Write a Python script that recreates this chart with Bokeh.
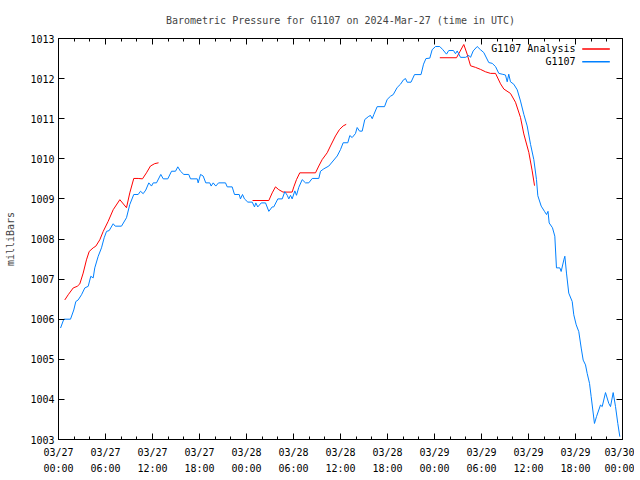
import math
from bokeh.plotting import figure
from bokeh.models import (Range1d, FixedTicker, LinearAxis, Label, Arrow)
from bokeh.embed import file_html
from bokeh.resources import INLINE

NAN = float("nan")

# ---- data: hours since 2024-03-27 00:00 UTC, pressure in milliBars ----
station_hours = [0.26, 0.68, 1.53, 1.95, 2.21, 2.51, 2.94, 3.36, 3.79, 4.12, 4.43, 4.63, 5.07, 5.49, 5.83,
                 6.13, 6.47, 6.98, 7.24, 8.04, 8.68, 9.10, 9.61, 10.17, 10.47, 10.81, 11.14, 11.53, 11.87,
                 12.09, 12.51, 13.06, 13.37, 13.95, 14.43, 14.94, 15.23, 15.57, 16.00, 16.63, 16.85, 17.71,
                 17.83, 18.13, 18.47, 18.80, 19.31, 19.49, 19.75, 20.08, 20.43, 21.32, 21.54, 22.17, 22.47,
                 23.07, 23.23, 23.49, 23.74, 24.17, 24.73, 25.02, 25.19, 25.44, 25.88, 26.43, 26.85, 27.28,
                 27.48, 28.00, 28.56, 28.89, 29.20, 29.40, 29.62, 29.83, 30.17, 30.38, 30.68, 31.11, 31.53,
                 31.95, 32.39, 33.23, 33.45, 33.87, 34.51, 34.94, 35.58, 36.00, 36.34, 36.93, 37.19, 37.49,
                 37.91, 38.13, 38.43, 38.77, 39.10, 39.61, 39.83, 40.05, 40.25, 40.68, 41.62, 41.96, 42.38,
                 42.73, 43.24, 43.66, 44.04, 44.30, 44.51, 45.00, 45.45, 46.28, 46.60, 46.91, 47.40, 47.70,
                 48.13, 48.67, 49.02, 49.53, 49.82, 50.42, 50.68, 50.90, 51.32, 51.96, 52.38, 52.60, 52.94,
                 53.45, 53.87, 54.29, 54.93, 55.37, 55.79, 56.21, 56.64, 57.06, 57.28, 57.48, 57.70, 58.12,
                 58.56, 58.98, 59.40, 59.83, 60.26, 60.68, 61.02, 61.19, 61.62, 62.04, 62.30, 62.49, 62.64,
                 63.06, 63.36, 63.57, 64.00, 64.17, 64.51, 64.64, 64.85, 65.14, 65.58, 65.78, 66.09, 66.42,
                 66.73, 66.98, 67.28, 67.49, 67.79, 68.00, 68.42, 68.68, 69.19, 69.41, 69.83, 70.25, 70.47,
                 70.81, 71.11, 71.40, 71.66]
station_mb = [1005.78, 1006.00, 1006.00, 1006.23, 1006.44, 1006.48, 1006.61, 1006.78, 1006.82, 1007.07,
              1007.03, 1007.28, 1007.57, 1007.78, 1008.03, 1008.19, 1008.21, 1008.38, 1008.32, 1008.32,
              1008.53, 1008.86, 1009.11, 1009.11, 1009.19, 1009.13, 1009.22, 1009.40, 1009.32, 1009.40,
              1009.40, 1009.61, 1009.50, 1009.50, 1009.69, 1009.69, 1009.80, 1009.69, 1009.61, 1009.61,
              1009.50, 1009.50, 1009.40, 1009.61, 1009.57, 1009.40, 1009.40, 1009.32, 1009.40, 1009.32,
              1009.40, 1009.40, 1009.30, 1009.30, 1009.11, 1009.11, 1009.00, 1009.11, 1009.00, 1008.92,
              1008.92, 1008.80, 1008.90, 1008.80, 1008.90, 1008.90, 1008.69, 1008.80, 1008.80, 1009.00,
              1009.00, 1009.18, 1009.09, 1009.00, 1009.09, 1009.00, 1009.20, 1009.09, 1009.29, 1009.48,
              1009.40, 1009.40, 1009.51, 1009.51, 1009.69, 1009.75, 1009.82, 1009.92, 1010.07, 1010.23,
              1010.40, 1010.40, 1010.58, 1010.53, 1010.63, 1010.78, 1010.69, 1010.69, 1010.98, 1011.06,
              1011.08, 1011.00, 1011.10, 1011.30, 1011.30, 1011.48, 1011.56, 1011.60, 1011.78, 1011.86,
              1011.97, 1012.00, 1011.91, 1011.91, 1012.10, 1012.10, 1012.36, 1012.50, 1012.51, 1012.72,
              1012.80, 1012.80, 1012.73, 1012.61, 1012.70, 1012.70, 1012.62, 1012.69, 1012.53, 1012.53,
              1012.58, 1012.53, 1012.69, 1012.80, 1012.72, 1012.65, 1012.40, 1012.38, 1012.30, 1012.13,
              1012.11, 1012.09, 1011.92, 1012.11, 1011.92, 1011.86, 1011.72, 1011.44, 1011.11, 1010.82,
              1010.36, 1009.98, 1009.48, 1009.08, 1008.82, 1008.69, 1008.61, 1008.69, 1008.40, 1008.28,
              1008.07, 1007.28, 1007.28, 1007.19, 1007.48, 1007.57, 1007.15, 1006.65, 1006.44, 1006.11,
              1005.86, 1005.69, 1005.28, 1004.98, 1004.86, 1004.65, 1004.40, 1004.07, 1003.40, 1003.57,
              1003.86, 1003.82, 1004.17, 1003.90, 1003.82, 1004.17, 1003.82, 1003.40, 1003.07]

analysis_hours = [0.80, 1.24, 1.88, 2.39, 2.72, 3.15, 3.57, 3.92, 4.43, 4.76, 5.27, 5.71, 6.34, 6.98, 7.83,
                  8.68, 9.10, 9.61, 10.17, 10.72, 11.23, 11.74, 12.29, 12.77,
                  NAN,
                  24.77, 26.85, 27.28, 27.70, 28.12, 28.66, 29.83, 30.04, 30.38, 30.80, 32.81, 33.23, 33.66,
                  34.30, 34.72, 35.36, 35.87, 36.34, 36.73,
                  NAN,
                  48.68, 50.81, 51.74, 52.17, 52.60, 53.23, 53.87, 54.51, 55.15, 55.79, 56.43, 56.85, 57.70,
                  58.34, 58.98, 59.40, 60.04, 60.47, 60.77]
analysis_mb = [1006.48, 1006.61, 1006.78, 1006.82, 1006.88, 1007.15, 1007.48, 1007.69, 1007.78, 1007.82,
               1007.98, 1008.19, 1008.44, 1008.73, 1008.98, 1008.78, 1009.15, 1009.51, 1009.51, 1009.50,
               1009.65, 1009.82, 1009.88, 1009.90,
               NAN,
               1008.96, 1008.96, 1009.15, 1009.30, 1009.23, 1009.17, 1009.17, 1009.30, 1009.48, 1009.65,
               1009.65, 1009.82, 1009.98, 1010.15, 1010.32, 1010.57, 1010.73, 1010.82, 1010.86,
               NAN,
               1012.52, 1012.52, 1012.85, 1012.61, 1012.32, 1012.28, 1012.23, 1012.17, 1012.13, 1012.13,
               1011.87, 1011.74, 1011.63, 1011.41, 1011.03, 1010.62, 1010.16, 1009.70, 1009.33]

x_tick_hours = [0, 6, 12, 18, 24, 30, 36, 42, 48, 54, 60, 66, 72]
x_tick_labels = ["03/27\n00:00", "03/27\n06:00", "03/27\n12:00", "03/27\n18:00",
                 "03/28\n00:00", "03/28\n06:00", "03/28\n12:00", "03/28\n18:00",
                 "03/29\n00:00", "03/29\n06:00", "03/29\n12:00", "03/29\n18:00",
                 "03/30\n00:00"]
x_minor_hours = list(range(0, 73, 2))
y_ticks = [1003, 1004, 1005, 1006, 1007, 1008, 1009, 1010, 1011, 1012, 1013]

series_names = ["G1107 Analysis", "G1107"]
series_colors = ["#ff0000", "#0080ff"]

FONT = "DejaVu Sans Mono"
FS = "10px"

p = figure(frame_width=564, frame_height=401,
           x_range=Range1d(0, 72), y_range=Range1d(1003, 1013),
           output_backend="svg", toolbar_location=None,
           min_border_left=58, min_border_right=12, min_border_top=38, min_border_bottom=20,
           x_axis_type=None, y_axis_type=None,
           title="Barometric Pressure for G1107 on 2024-Mar-27 (time in UTC)")
p.title.align = "center"
p.title.vertical_align = "top"
p.title.text_font = FONT
p.title.text_font_size = FS
p.title.text_font_style = "normal"
p.title.offset = 0
p.title.standoff = 22
p.xgrid.visible = False
p.ygrid.visible = False
p.outline_line_color = "black"
p.outline_line_width = 1
p.background_fill_color = "white"
p.border_fill_color = "white"

xt = FixedTicker(ticks=x_tick_hours, minor_ticks=x_minor_hours)
yt = FixedTicker(ticks=y_ticks, minor_ticks=[])


def style_axis(ax, show_labels, ticks):
    ax.axis_line_color = "black"
    ax.major_tick_in = 6
    ax.major_tick_out = 0
    ax.minor_tick_in = 3
    ax.minor_tick_out = 0
    ax.major_tick_line_color = "black"
    ax.minor_tick_line_color = "black"
    ax.major_label_text_font = FONT
    ax.major_label_text_font_size = FS
    ax.major_label_text_color = "black"
    ax.axis_label_text_font = FONT
    ax.axis_label_text_font_size = FS
    ax.axis_label_text_font_style = "normal"
    if not show_labels:
        ax.major_label_overrides = {t: "" for t in ticks}
        ax.major_label_standoff = 0


xb = LinearAxis(ticker=xt)
style_axis(xb, True, x_tick_hours)
xb.major_label_overrides = {h: lab for h, lab in zip(x_tick_hours, x_tick_labels)}
xb.major_label_standoff = 7
xb.major_label_text_line_height = 1.5
p.add_layout(xb, "below")

xa = LinearAxis(ticker=xt)
style_axis(xa, False, x_tick_hours)
p.add_layout(xa, "above")

yl = LinearAxis(ticker=yt, axis_label="milliBars")
style_axis(yl, True, y_ticks)
yl.major_label_standoff = 4
yl.axis_label_standoff = 11
p.add_layout(yl, "left")

yr = LinearAxis(ticker=yt)
style_axis(yr, False, y_ticks)
p.add_layout(yr, "right")

p.line(analysis_hours, analysis_mb, line_color=series_colors[0], line_width=1)
p.line(station_hours, station_mb, line_color=series_colors[1], line_width=1)

# gnuplot-style key (text followed by a line sample), top right
key_y = [1012.74, 1012.42]
for name, color, ky in zip(series_names, series_colors, key_y):
    p.add_layout(Label(x=66.0, y=ky, text=name, text_align="right", text_baseline="middle",
                       text_font=FONT, text_font_size=FS, text_color="black"))
    p.add_layout(Arrow(end=None, x_start=66.86, y_start=ky, x_end=70.38, y_end=ky,
                       line_color=color, line_width=1.5))

open("out.html", "w").write(file_html(p, INLINE))
